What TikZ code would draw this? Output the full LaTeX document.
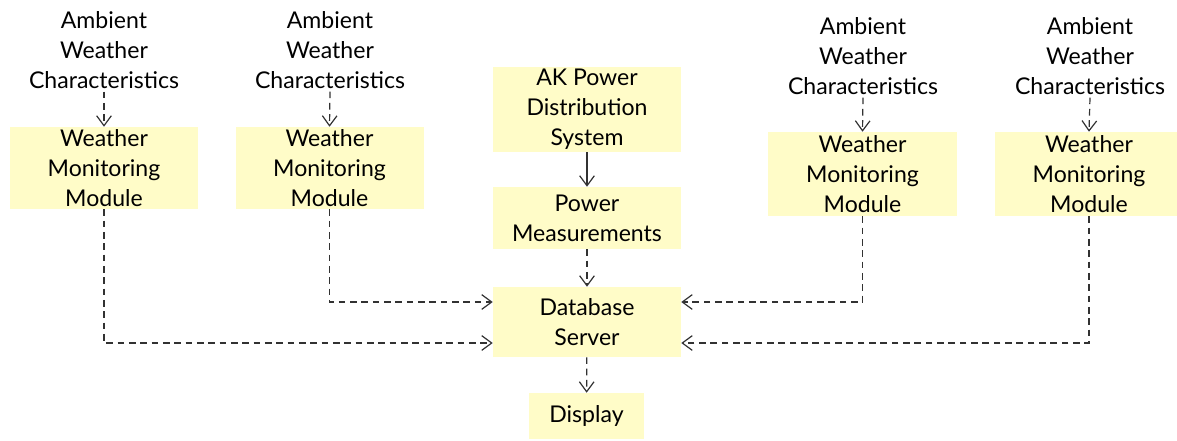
\documentclass[tikz,border=0pt]{standalone}
\usepackage{fontspec}
\setmainfont{Lato}
\usetikzlibrary{arrows.meta}
\definecolor{boxfill}{RGB}{255,252,200}
\definecolor{linkgray}{RGB}{50,50,50}
\tikzset{
  block/.style={fill=boxfill, inner sep=0pt, align=center,
    font=\fontsize{17.3}{22.5}\selectfont},
  label/.style={inner sep=2pt, align=center,
    font=\fontsize{17.3}{22.5}\selectfont},
  dlink/.style={draw=linkgray, line width=0.9pt, dash pattern=on 5pt off 3.5pt,
    -{Straight Barb[length=7.5pt,width=11pt]}},
  slink/.style={draw=linkgray, line width=0.9pt,
    -{Straight Barb[length=7.5pt,width=11pt]}},
}
\begin{document}
\begin{tikzpicture}[x=0.75pt, y=-0.75pt]
\useasboundingbox (0,0) rectangle (1177,440);

% weather monitoring modules
\node[block, minimum width=141pt, minimum height=61.5pt] (wm1) at (104,168) {Weather\\Monitoring\\Module};
\node[block, minimum width=141pt, minimum height=61.5pt] (wm2) at (329.5,168) {Weather\\Monitoring\\Module};
\node[block, minimum width=141.75pt, minimum height=63pt] (wm3) at (862.5,174) {Weather\\Monitoring\\Module};
\node[block, minimum width=141.75pt, minimum height=63pt] (wm4) at (1089,174) {Weather\\Monitoring\\Module};

% ambient weather inputs
\node[label] (amb1) at (104,50) {Ambient\\Weather\\Characteristics};
\node[label] (amb2) at (330,50) {Ambient\\Weather\\Characteristics};
\node[label] (amb3) at (863,56) {Ambient\\Weather\\Characteristics};
\node[label] (amb4) at (1090,56) {Ambient\\Weather\\Characteristics};

% central chain
\node[block, minimum width=141pt, minimum height=63.75pt] (ak) at (587,109.5) {AK Power\\Distribution\\System};
\node[block, minimum width=141pt, minimum height=46.5pt] (pm) at (587,218) {Power\\Measurements};
\node[block, minimum width=141pt, minimum height=52.5pt] (db) at (587,322) {Database\\Server};
\node[block, minimum width=86.25pt, minimum height=34.5pt] (disp) at (586.5,416) {Display};

% connectors
\draw[dlink] (amb1.south) -- (wm1.north);
\draw[dlink] (amb2.south) -- (wm2.north);
\draw[dlink] (amb3.south) -- (wm3.north);
\draw[dlink] (amb4.south) -- (wm4.north);

\draw[slink] (ak) -- (pm);
\draw[dlink] (pm) -- (db);
\draw[dlink] (db) -- (disp);

\draw[dlink] (wm2.south) |- ([yshift=15pt]db.west);
\draw[dlink] (wm1.south) |- ([yshift=-15.75pt]db.west);
\draw[dlink] (wm3.south) |- ([yshift=15pt]db.east);
\draw[dlink] (wm4.south) |- ([yshift=-15.75pt]db.east);
\end{tikzpicture}
\end{document}
